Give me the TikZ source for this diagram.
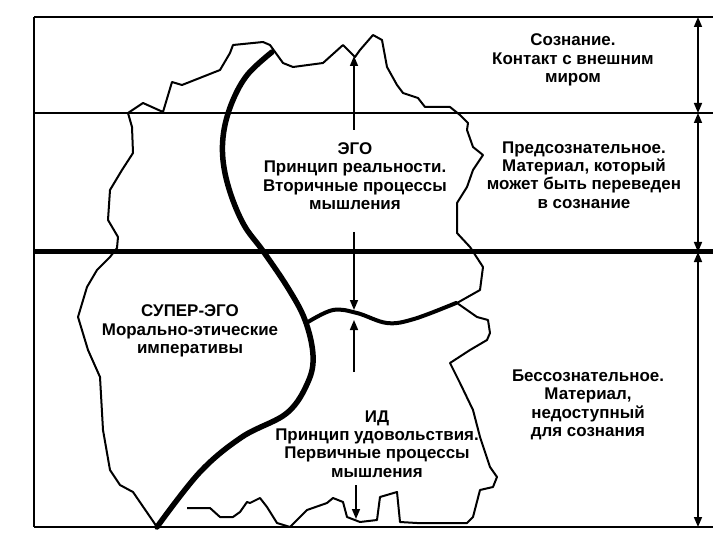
\documentclass[tikz,border=0pt]{standalone}
\usepackage{fontspec}
\setmainfont{Liberation Sans}
\usetikzlibrary{arrows.meta}
\tikzset{
  level/.style={line width=2bp},
  mainlevel/.style={line width=5bp},
  border/.style={line width=2bp,line join=round},
  egoline/.style={line width=5.5bp,line cap=round},
  idline/.style={line width=4bp,line cap=round},
  dimarrow/.style={{Triangle[length=10bp,width=8bp]}-{Triangle[length=10bp,width=8bp]},line width=1.6bp},
  cue/.style={-{Triangle[length=10bp,width=8bp]},line width=1.6bp},
  lbl/.style={align=center,inner sep=0pt,font=\bfseries\fontsize{17}{18.5}\selectfont}
}

\begin{document}
\begin{tikzpicture}[x=1bp,y=-1bp]
\useasboundingbox (0,0) rectangle (720,540);
% levels
\draw[level] (34,17) -- (34,527);
\foreach \y in {17,113,527} {
  \draw[level] (34,\y) -- (713,\y);
}
\draw[mainlevel] (34,252) -- (713,252);
% outline of the psyche
\draw[border] (157,527) -- (133,492) -- (120,485) -- (110,470) -- (103,430)
  -- (100,377) -- (88,350) -- (78,317) -- (87,287) -- (97,270) -- (110,257)
  -- (117,248) -- (118,237) -- (108,220) -- (110,190) -- (122,170) -- (133,153)
  -- (132,127) -- (128,113) -- (137,107) -- (143,103) -- (163,112) -- (172,82)
  -- (182,85) -- (220,70) -- (230,53) -- (233,45) -- (263,42) -- (270,45)
  -- (283,63) -- (293,67) -- (323,63) -- (343,45) -- (355,57) -- (360,50)
  -- (373,35) -- (382,40) -- (387,67) -- (397,85) -- (403,93) -- (418,98)
  -- (425,107) -- (450,107) -- (460,115) -- (468,123) -- (467,130) -- (473,147)
  -- (483,155) -- (473,170) -- (467,187) -- (457,203) -- (457,233) -- (470,247)
  -- (483,267) -- (480,290) -- (457,303) -- (477,317) -- (488,320) -- (490,333)
  -- (487,340) -- (470,350) -- (450,363) -- (460,383) -- (473,410) -- (480,437)
  -- (490,467) -- (497,477) -- (493,487) -- (480,490) -- (473,517) -- (467,523)
  -- (450,523) -- (417,523) -- (400,522) -- (397,492) -- (380,497) -- (377,520)
  -- (360,522) -- (347,517) -- (343,502) -- (333,498) -- (327,503) -- (307,510)
  -- (300,517) -- (290,527) -- (277,523) -- (267,507) -- (260,498) -- (250,503)
  -- (247,502) -- (240,512) -- (233,517) -- (220,517) -- (210,508) -- (187,508);
% super-ego and id boundaries
\draw[egoline] plot[smooth,tension=0.6] coordinates {(272,52) (248,74) (233,100)
  (224,130) (223,160) (230,192) (244,225) (263,251) (288,288) (305,320) (313,355)
  (308,382) (287,413) (242,437) (200,472) (157,527)};
\draw[idline] plot[smooth,tension=0.6] coordinates {(308,322) (333,310) (357,313)
  (387,323) (414,319) (456,303)};
% labels
\node[lbl] (conscious) at (573,60) {Сознание.\\Контакт с внешним\\миром};
\node[lbl] (preconscious) at (584,175) {Предсознательное.\\Материал, который\\может быть переведен\\в сознание};
\node[lbl] (unconscious) at (588,405) {Бессознательное.\\Материал,\\недоступный\\для сознания};
\node[lbl] (ego) at (355,176) {ЭГО\\Принцип реальности.\\Вторичные процессы\\мышления};
\node[lbl] (superego) at (190,331) {СУПЕР-ЭГО\\Морально-этические\\императивы};
\node[lbl] (id) at (377,444) {ИД\\Принцип удовольствия.\\Первичные процессы\\мышления};
% arrows on the right
\coordinate (r0) at (698,17);
\coordinate (r1) at (698,113);
\coordinate (r2) at (698,252);
\coordinate (r3) at (698,527);
\foreach \a/\b in {r0/r1,r1/r2,r2/r3} {
  \draw[dimarrow] (\a) -- (\b);
}
% arrows in the middle
\coordinate (egoA) at (354,130);
\coordinate (egoB) at (354,56);
\coordinate (egoC) at (354,232);
\coordinate (egoD) at (354,310);
\coordinate (idA) at (354,372);
\coordinate (idB) at (354,320);
\coordinate (idC) at (356,485);
\coordinate (idD) at (356,519);
\foreach \a/\b in {egoA/egoB,egoC/egoD,idA/idB,idC/idD} {
  \draw[cue] (\a) -- (\b);
}
\end{tikzpicture}
\end{document}
